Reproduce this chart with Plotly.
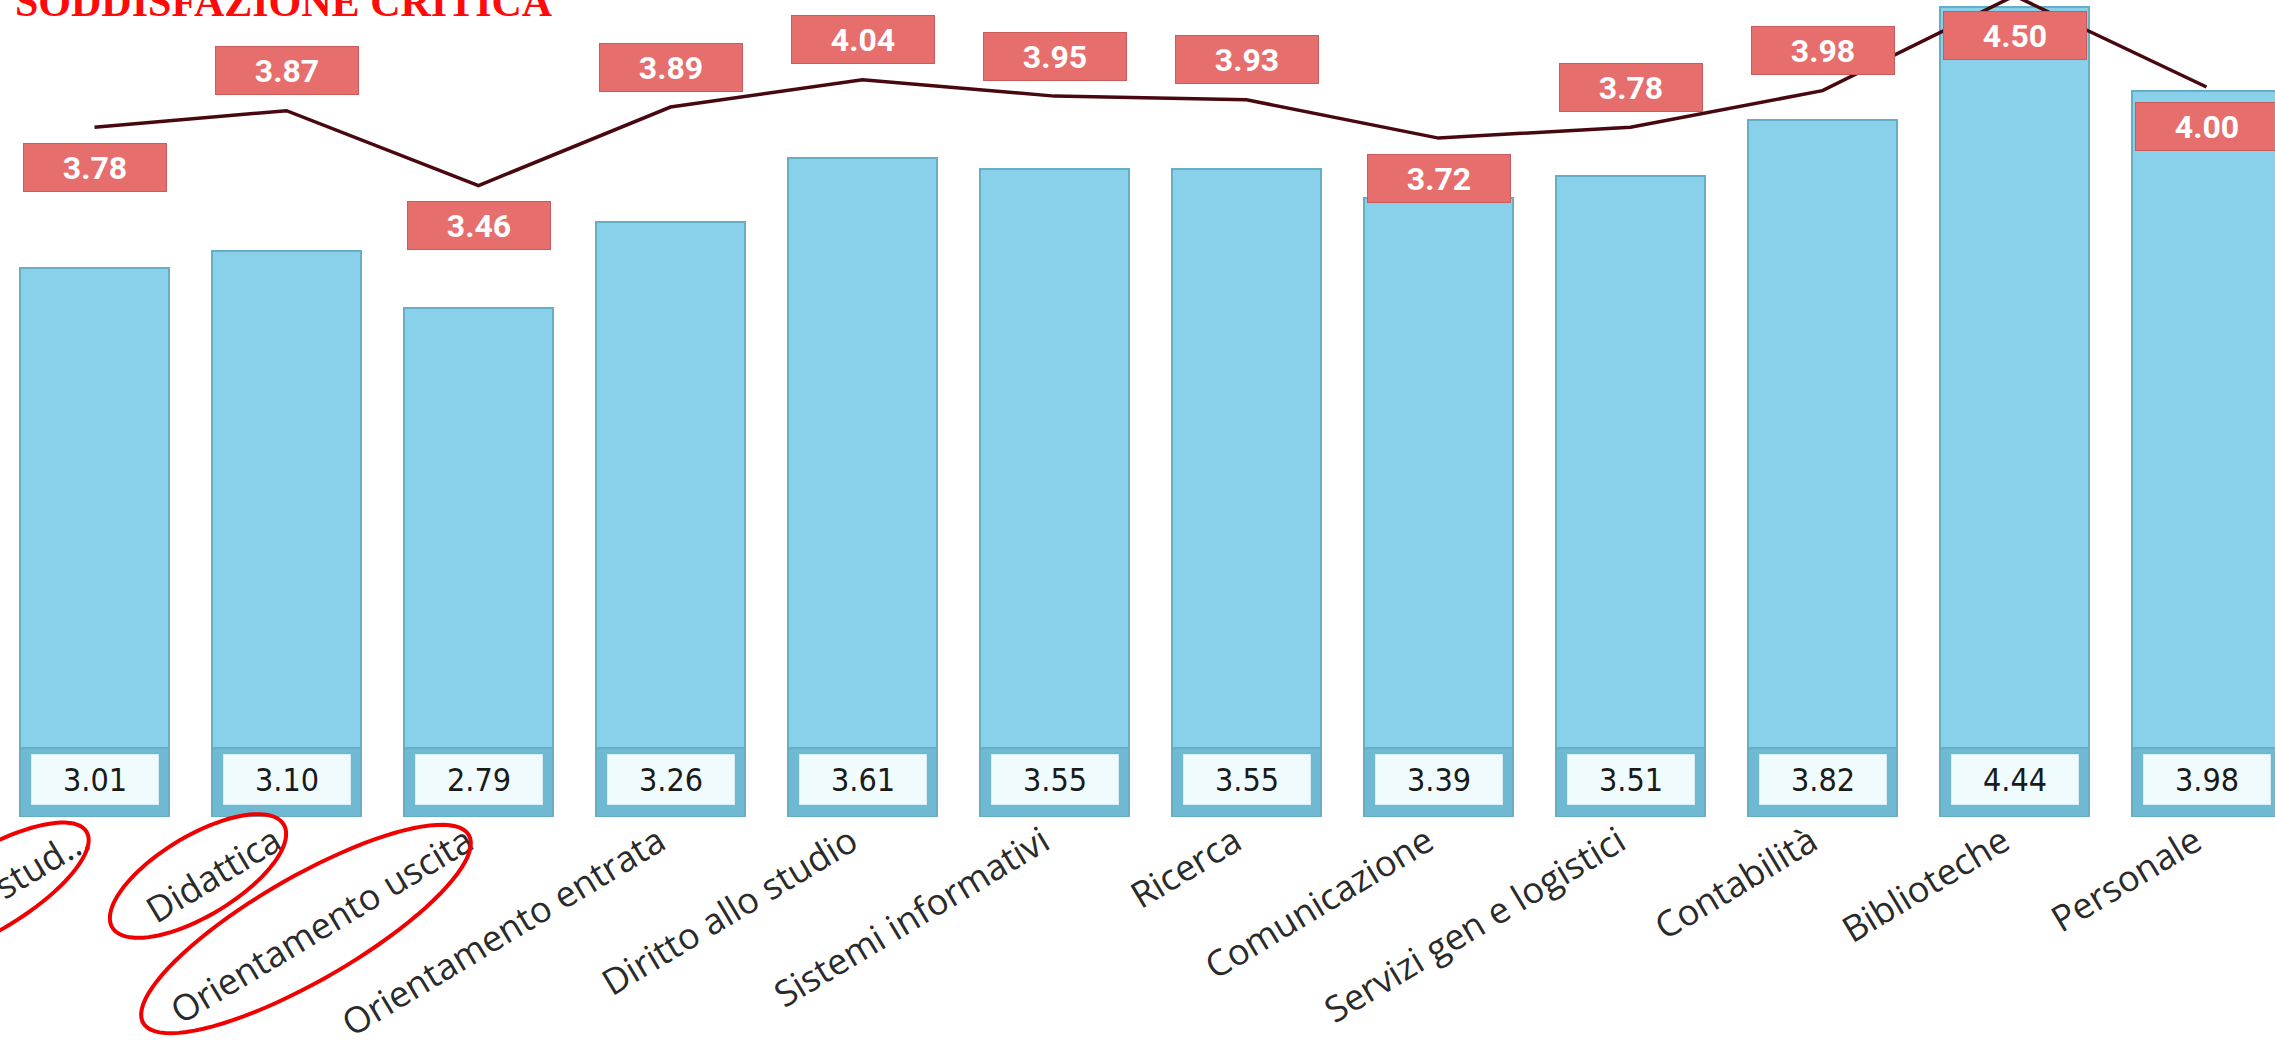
import numpy as np
import plotly.graph_objects as go

# ---------------- data ----------------
categories = ["Segreteria stud...", "Didattica", "Orientamento uscita", "Orientamento entrata",
              "Diritto allo studio", "Sistemi informativi", "Ricerca", "Comunicazione",
              "Servizi gen e logistici", "Contabilità", "Biblioteche", "Personale"]
bar_values = [3.01, 3.10, 2.79, 3.26, 3.61, 3.55, 3.55, 3.39, 3.51, 3.82, 4.44, 3.98]
line_values = [3.78, 3.87, 3.46, 3.89, 4.04, 3.95, 3.93, 3.72, 3.78, 3.98, 4.50, 4.00]
title_text = "SODDISFAZIONE CRITICA"

# ---------------- style / layout ----------------
W, H = 2275, 1040
PLOT_H = 817                 # plot area height in px (bottom margin below)
PX_PER_UNIT = 182.5
Y_MAX = PLOT_H / PX_PER_UNIT
PITCH = 192.0
FIRST_CENTER = 94.5
X0 = -FIRST_CENTER / PITCH
X1 = X0 + W / PITCH
BAR_W = 149 / PITCH
BAND = 0.38                  # darker band at bar foot (decoration)
LABEL_DX = 0.06              # tick labels sit slightly left of bar centres
label_side = ["below", "above", "below", "above", "above", "above",
              "above", "below", "above", "above", "below", "below"]

BAR_COLOR = "#89d1ea"
BAR_LINE = "#64aec8"
BAND_COLOR = "#6fbad2"
LINE_COLOR = "#480810"
RED_BOX = "#e66f6d"
RED_BOX_BORDER = "#c95b5b"

x = list(range(len(categories)))

fig = go.Figure()
fig.add_trace(go.Bar(x=x, y=bar_values, width=BAR_W, marker=dict(color=BAR_COLOR, line=dict(color=BAR_LINE, width=2)),
                     showlegend=False, hoverinfo="skip"))
fig.add_trace(go.Bar(x=x, y=[BAND] * len(x), width=BAR_W, marker=dict(color=BAND_COLOR, line=dict(color=BAR_LINE, width=2)),
                     showlegend=False, hoverinfo="skip"))
fig.add_trace(go.Scatter(x=x, y=line_values, mode="lines", line=dict(color=LINE_COLOR, width=3.5),
                         cliponaxis=False, showlegend=False, hoverinfo="skip"))

annotations = []
# red labels for line values
for i, v in enumerate(line_values):
    shift = 40 if label_side[i] == "above" else -40
    annotations.append(dict(x=i, xref="x", y=v / Y_MAX, yref="paper", yshift=shift,
                            text=f"<b>{v:.2f}</b>", showarrow=False, xanchor="center", yanchor="middle",
                            width=140, height=45, bgcolor=RED_BOX, bordercolor=RED_BOX_BORDER, borderwidth=1,
                            font=dict(family="Roboto", size=32, color="white")))
# white boxes for bar values
for i, v in enumerate(bar_values):
    annotations.append(dict(x=i, xref="x", y=0, yref="paper", yshift=38,
                            text=f"{v:.2f}", showarrow=False, xanchor="center", yanchor="middle",
                            width=124, height=47, bgcolor="#effbfd", bordercolor="#d3eef6", borderwidth=1,
                            font=dict(family="DejaVu Sans Condensed", size=32, color="#1a1a1a")))
# title (cut at top edge, as in the reference)
annotations.append(dict(x=14 / W, xref="paper", y=(PLOT_H - 26) / PLOT_H, yref="paper",
                        text=f"<b>{title_text}</b>", showarrow=False, xanchor="left", yanchor="bottom",
                        borderpad=0, font=dict(family="Liberation Serif", size=42, color="#ff0a0a")))

# red hand-drawn ellipses around first three labels (pixel geometry)
ellipses = [(-12, 891, 115, 40, 31), (198, 876, 100, 40, 31), (306, 929, 188, 52, 30)]
shapes = []
t = np.linspace(0, 2 * np.pi, 90)
for cx, cy, a, b, ang in ellipses:
    th = np.deg2rad(ang)
    px = cx + a * np.cos(t) * np.cos(th) + b * np.sin(t) * np.sin(th)
    py = cy - a * np.cos(t) * np.sin(th) + b * np.sin(t) * np.cos(th)
    X = px / W
    Y = (PLOT_H - py) / PLOT_H
    path = "M " + " L ".join(f"{xx:.5f},{yy:.5f}" for xx, yy in zip(X, Y)) + " Z"
    shapes.append(dict(type="path", path=path, xref="paper", yref="paper",
                       line=dict(color="#f00000", width=4), fillcolor="rgba(0,0,0,0)", layer="above"))

fig.update_layout(
    width=W, height=H, template="none",
    margin=dict(l=0, r=0, t=0, b=H - PLOT_H, pad=0),
    paper_bgcolor="white", plot_bgcolor="white",
    barmode="overlay", bargap=0,
    annotations=annotations, shapes=shapes, showlegend=False,
    xaxis=dict(range=[X0, X1], tickmode="array", tickvals=[i - LABEL_DX for i in x], ticktext=categories,
               tickangle=-31, showgrid=False, zeroline=False, showline=False, ticks="", automargin=False,
               ticklabeloverflow="allow",
               ticklabelstandoff=-4, tickfont=dict(family="Open Sans", size=36, color="#2a2a2a")),
    yaxis=dict(range=[0, Y_MAX], showgrid=False, zeroline=False, showline=False,
               showticklabels=False, ticks="", automargin=False),
)

fig.write_html("out.html")
